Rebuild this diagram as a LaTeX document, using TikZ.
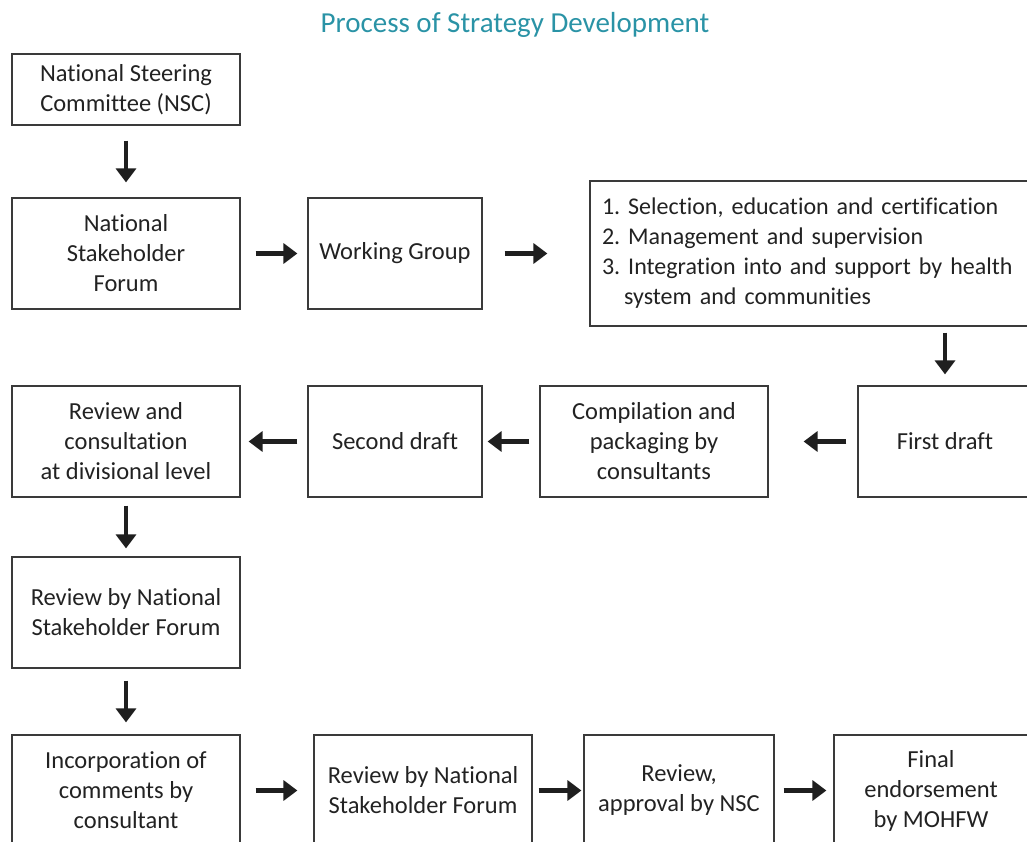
\documentclass[tikz,border=0pt]{standalone}
\usepackage{fontspec}
\setmainfont{Carlito}[Ligatures=NoCommon]
\usetikzlibrary{arrows.meta}
\definecolor{titlec}{HTML}{2A93A6}
\definecolor{linec}{HTML}{3A3A3A}
\definecolor{txtc}{HTML}{222222}
\frenchspacing
\begin{document}
\begin{tikzpicture}[x=1pt,y=-1pt,
  box/.style={draw=linec,line width=1.2pt,text=txtc,align=center,inner sep=0pt,
    font=\fontsize{24.5}{30}\selectfont},
  flow/.style={line width=4.5pt,draw=black!88,-{Triangle[length=14pt,width=20pt]}}]
\useasboundingbox (0,0) rectangle (1027,842);
\begin{scope}
\clip (0,0) rectangle (1027,842);
\node[text=titlec,font=\fontsize{29}{30}\selectfont] (title) at (515,25) {Process of Strategy Development};
\node[box,minimum width=228pt,minimum height=71pt] (nsc) at (126,89.5) {National Steering\\Committee (NSC)};
\node[box,minimum width=228pt,minimum height=111pt] (nsf) at (126,253.5) {National\\Stakeholder\\Forum};
\node[box,minimum width=174pt,minimum height=111pt] (wg) at (395,253.5) {Working Group};
\node[box,minimum width=444pt,minimum height=145pt,align=left,text width=420pt,
  font=\fontsize{24}{30}\selectfont] (list) at (812,253.5)
  {1. Selection, education and certification\\2. Management and supervision\\3. Integration into and support by health\\\phantom{3.\,}system and communities};
\node[box,minimum width=174pt,minimum height=111pt] (fd) at (945,441.5) {First draft};
\node[box,minimum width=228pt,minimum height=111pt] (comp) at (654,441.5) {Compilation and\\packaging by\\consultants};
\node[box,minimum width=174pt,minimum height=111pt] (sd) at (395,441.5) {Second draft};
\node[box,minimum width=228pt,minimum height=111pt] (rc) at (126,441.5) {Review and\\consultation\\at divisional level};
\node[box,minimum width=228pt,minimum height=111pt] (rnsf) at (126,612.5) {Review by National\\Stakeholder Forum};
\node[box,minimum width=228pt,minimum height=111pt] (inc) at (126,790.5) {Incorporation of\\comments by\\consultant};
\node[box,minimum width=218pt,minimum height=111pt] (rnsf2) at (423,790.5) {Review by National\\Stakeholder Forum};
\node[box,minimum width=190pt,minimum height=111pt] (appr) at (679,790.5) {Review,\\approval by NSC};
\node[box,minimum width=194pt,minimum height=111pt] (fin) at (931,790.5) {Final\\endorsement\\by MOHFW};
\end{scope}
\draw[flow,shorten <=15pt,shorten >=15pt] (nsc.south) -- (nsc.south|-nsf.north);
\draw[flow,shorten <=15pt,shorten >=10pt] (nsf.east) -- (wg.west);
\draw[flow,shorten <=22pt,shorten >=42pt] (wg.east) -- (list.west|-wg.east);
\draw[flow,shorten <=6pt,shorten >=11pt] (fd.north|-list.south) -- (fd.north);
\draw[flow,shorten <=11pt,shorten >=35pt] (fd.west) -- (comp.east);
\draw[flow,shorten <=10pt,shorten >=5pt] (comp.west) -- (sd.east);
\draw[flow,shorten <=10pt,shorten >=8pt] (sd.west) -- (rc.east);
\draw[flow,shorten <=8pt,shorten >=8pt] (rc.south) -- (rnsf.north);
\draw[flow,shorten <=12pt,shorten >=12pt] (rnsf.south) -- (inc.north);
\draw[flow,shorten <=15pt,shorten >=16pt] (inc.east) -- (rnsf2.west);
\draw[flow,shorten <=6pt,shorten >=2pt] (rnsf2.east) -- (appr.west);
\draw[flow,shorten <=9pt,shorten >=7pt] (appr.east) -- (fin.west);
\end{tikzpicture}
\end{document}
